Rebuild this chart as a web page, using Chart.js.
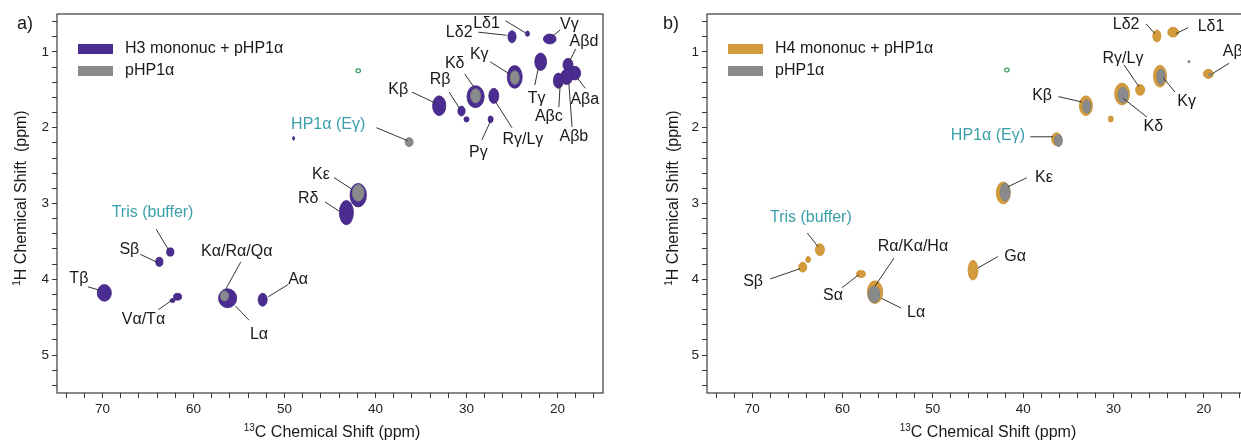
<!DOCTYPE html>
<html lang="en">
<head>
  <meta charset="UTF-8" />
  <title>HP1α 13C-1H correlation spectra</title>
  <script src="https://cdn.jsdelivr.net/npm/chart.js"></script>
  <style>
    body {
      margin: 0;
      padding: 0;
      width: 1241px;
      height: 440px;
      overflow: hidden;
      position: relative;
      background: #fff;
    }
    canvas { position: absolute; top: 0; }
    #panelA { left: 0; }
    #panelB { left: 650px; }
  </style>
</head>
<body>
  <canvas id="panelA" width="620" height="440"></canvas>
  <canvas id="panelB" width="620" height="440"></canvas>
  <script>
    // Axis ticks (ppm)
    const carbonTicks = [74, 72, 70, 68, 66, 64, 62, 60, 58, 56, 54, 52, 50, 48, 46, 44, 42, 40, 38, 36, 34, 32, 30, 28, 26, 24, 22, 20, 18, 16];
    const protonTicks = [0.6, 0.8, 1, 1.2, 1.4, 1.6, 1.8, 2, 2.2, 2.4, 2.6, 2.8, 3, 3.2, 3.4, 3.6, 3.8, 4, 4.2, 4.4, 4.6, 4.8, 5, 5.2, 5.4];

    // Panel a: H3 mononuc + pHP1a peaks (13C, 1H, linewidth C, linewidth H)
    const h3Carbon = [25.0, 23.3, 20.85, 21.85, 18.85, 18.1, 19.0, 19.9, 24.7, 29.0, 27.0, 33.0, 30.55, 30.0, 27.35, 49.0, 41.9, 43.2, 62.55, 63.75, 69.8, 61.75, 62.3, 56.25, 52.4];
    const h3Proton = [0.80, 0.76, 0.83, 1.13, 1.17, 1.28, 1.33, 1.38, 1.33, 1.59, 1.58, 1.71, 1.78, 1.89, 1.89, 2.14, 2.89, 3.12, 3.64, 3.77, 4.18, 4.23, 4.28, 4.25, 4.27];
    const h3WidthC = [0.9, 0.45, 1.4, 1.3, 1.1, 1.3, 1.3, 1.1, 1.65, 1.9, 1.1, 1.45, 0.8, 0.55, 0.55, 0.22, 1.8, 1.55, 0.8, 0.8, 1.55, 0.9, 0.55, 2.0, 1.0];
    const h3WidthH = [0.16, 0.07, 0.13, 0.23, 0.17, 0.18, 0.2, 0.2, 0.30, 0.29, 0.20, 0.26, 0.13, 0.07, 0.09, 0.05, 0.31, 0.32, 0.11, 0.12, 0.22, 0.09, 0.055, 0.25, 0.17];

    // Panel a: pHP1a alone
    const aGreyCarbon = [24.7, 29.0, 36.3, 41.9, 56.6];
    const aGreyProton = [1.34, 1.58, 2.19, 2.86, 4.22];
    const aGreyWidthC = [1.0, 1.1, 0.9, 1.3, 0.9];
    const aGreyWidthH = [0.18, 0.19, 0.12, 0.22, 0.13];

    // Panel b: H4 mononuc + pHP1a peaks
    const h4Carbon = [25.2, 23.4, 19.5, 27.05, 24.85, 29.05, 30.3, 33.05, 36.3, 42.2, 62.5, 64.4, 63.8, 57.95, 56.4, 45.55];
    const h4Proton = [0.79, 0.74, 1.29, 1.50, 1.32, 1.555, 1.885, 1.71, 2.15, 2.86, 3.61, 3.84, 3.74, 3.93, 4.17, 3.88];
    const h4WidthC = [0.9, 1.2, 1.1, 1.0, 1.45, 1.65, 0.55, 1.45, 1.1, 1.55, 1.0, 0.9, 0.55, 1.0, 1.7, 1.1];
    const h4WidthH = [0.16, 0.13, 0.12, 0.145, 0.29, 0.29, 0.08, 0.26, 0.17, 0.29, 0.16, 0.13, 0.08, 0.09, 0.30, 0.26];

    // Panel b: pHP1a alone
    const bGreyCarbon = [21.65, 19.3, 24.75, 28.95, 32.95, 36.1, 42.0, 56.5];
    const bGreyProton = [1.13, 1.30, 1.33, 1.57, 1.72, 2.17, 2.85, 4.20];
    const bGreyWidthC = [0.25, 0.3, 0.9, 1.1, 0.9, 0.9, 1.1, 1.3];
    const bGreyWidthH = [0.03, 0.04, 0.21, 0.21, 0.18, 0.16, 0.24, 0.22];

    // small unassigned ring seen in both spectra
    const ringCarbon = [41.9];
    const ringProton = [1.25];

    // assignments: text, label C, label H, leader from C/H, leader to C/H
    const h3Notes = [
      ['Lδ2', 30.8, 0.74, 28.7, 0.74, 25.6, 0.78],
      ['Lδ1', 27.8, 0.63, 25.7, 0.59, 23.5, 0.75],
      ['Vγ', 18.7, 0.645, 19.7, 0.71, 20.5, 0.79],
      ['Aβd', 17.1, 0.87, 18.0, 0.96, 18.7, 1.13],
      ['Kγ', 28.6, 1.04, 27.4, 1.13, 25.3, 1.29],
      ['Kδ', 31.3, 1.15, 30.2, 1.29, 29.2, 1.46],
      ['Rβ', 32.9, 1.37, 31.9, 1.53, 30.8, 1.74],
      ['Kβ', 37.5, 1.50, 36.0, 1.53, 33.5, 1.67],
      ['Tγ', 22.3, 1.62, 22.5, 1.44, 22.1, 1.21],
      ['Aβa', 17.0, 1.63, 16.95, 1.48, 17.85, 1.34],
      ['Aβc', 20.95, 1.86, 19.85, 1.73, 19.7, 1.41],
      ['Aβb', 18.2, 2.12, 18.4, 1.99, 18.75, 1.42],
      ['Pγ', 28.7, 2.33, 28.3, 2.16, 27.35, 1.91],
      ['Rγ/Lγ', 23.8, 2.16, 25.0, 2.00, 26.8, 1.66],
      ['HP1α (Eγ)', 45.2, 1.96, 39.9, 2.00, 36.5, 2.17],
      ['Kε', 46.0, 2.62, 44.55, 2.66, 42.6, 2.81],
      ['Rδ', 47.4, 2.93, 45.55, 2.98, 44.0, 3.10],
      ['Tris (buffer)', 64.5, 3.12, 64.1, 3.34, 62.75, 3.61],
      ['Sβ', 67.05, 3.61, 65.85, 3.67, 64.1, 3.77],
      ['Tβ', 72.6, 3.995, 71.6, 4.10, 70.4, 4.14],
      ['Kα/Rα/Qα', 55.25, 3.64, 54.8, 3.77, 56.5, 4.14],
      ['Aα', 48.5, 4.01, 49.6, 4.07, 51.8, 4.23],
      ['Vα/Tα', 65.5, 4.53, 63.85, 4.40, 62.3, 4.27],
      ['Lα', 52.8, 4.73, 53.9, 4.54, 55.4, 4.35]
    ];
    const h4Notes = [
      ['Lδ2', 28.6, 0.645, 26.4, 0.63, 25.4, 0.76],
      ['Lδ1', 19.2, 0.67, 21.75, 0.68, 23.1, 0.76],
      ['Aβ', 16.8, 1.0, 17.2, 1.15, 19.1, 1.29],
      ['Rγ/Lγ', 28.95, 1.09, 28.84, 1.17, 27.18, 1.46],
      ['Kγ', 21.9, 1.66, 23.2, 1.53, 24.5, 1.34],
      ['Kδ', 25.6, 1.99, 26.3, 1.86, 28.95, 1.61],
      ['Kβ', 37.9, 1.57, 36.1, 1.59, 33.5, 1.66],
      ['HP1α (Eγ)', 43.9, 2.11, 39.2, 2.12, 36.7, 2.12],
      ['Kε', 37.7, 2.66, 39.6, 2.66, 41.7, 2.78],
      ['Tris (buffer)', 63.5, 3.18, 63.9, 3.39, 62.7, 3.57],
      ['Sβ', 69.9, 4.03, 68.0, 3.995, 64.7, 3.86],
      ['Sα', 61.05, 4.22, 60.05, 4.11, 58.2, 3.94],
      ['Rα/Kα/Hα', 52.2, 3.57, 54.3, 3.72, 56.4, 4.09],
      ['Lα', 51.85, 4.44, 53.5, 4.38, 55.7, 4.25],
      ['Gα', 40.9, 3.70, 42.8, 3.70, 45.0, 3.85]
    ];
    const tealNotes = ['Tris (buffer)', 'HP1α (Eγ)'];

    const FONT = "'Liberation Sans', Arial, sans-serif";
    const INK = '#1a1a1a';
    const TEAL = '#3a9fab';
    const FRAME = '#3a3a3a';

    function peaks(label, cs, hs, wc, wh, fill, edge) {
      return {
        label: label,
        data: cs.map((c, i) => ({ x: c, y: hs[i] })),
        spanC: wc,
        spanH: wh,
        backgroundColor: fill,
        borderColor: edge
      };
    }

    function ring(cs, hs) {
      return {
        label: '',
        data: cs.map((c, i) => ({ x: c, y: hs[i] })),
        spanC: cs.map(() => 0.5),
        spanH: cs.map(() => 0.05),
        ring: true,
        borderColor: '#2f9a5a'
      };
    }

    // draws each peak as an ellipse sized by its linewidths
    const blobPlugin = {
      id: 'blobs',
      afterDatasetsDraw(chart) {
        const ctx = chart.ctx, xs = chart.scales.x, ys = chart.scales.y, a = chart.chartArea;
        ctx.save();
        ctx.beginPath();
        ctx.rect(a.left, a.top, a.right - a.left, a.bottom - a.top);
        ctx.clip();
        chart.data.datasets.forEach((ds, i) => {
          const meta = chart.getDatasetMeta(i);
          meta.data.forEach((pt, j) => {
            const d = ds.data[j];
            const rx = Math.abs(xs.getPixelForValue(d.x + ds.spanC[j] / 2) - pt.x);
            const ry = Math.abs(ys.getPixelForValue(d.y + ds.spanH[j] / 2) - pt.y);
            ctx.beginPath();
            ctx.ellipse(pt.x, pt.y, rx, ry, 0, 0, Math.PI * 2);
            if (ds.ring) {
              ctx.strokeStyle = ds.borderColor;
              ctx.lineWidth = 1.2;
              ctx.stroke();
            } else {
              ctx.fillStyle = ds.backgroundColor;
              ctx.fill();
              ctx.strokeStyle = ds.borderColor;
              ctx.lineWidth = 0.8;
              ctx.stroke();
            }
          });
        });
        ctx.restore();
      }
    };

    function drawSupTitle(ctx, sup, rest, cx, cy) {
      ctx.font = '16px ' + FONT;
      const wRest = ctx.measureText(rest).width;
      ctx.font = '10px ' + FONT;
      const wSup = ctx.measureText(sup).width;
      const x0 = cx - (wRest + wSup) / 2;
      ctx.textAlign = 'left';
      ctx.textBaseline = 'alphabetic';
      ctx.fillText(sup, x0, cy - 6);
      ctx.font = '16px ' + FONT;
      ctx.fillText(rest, x0 + wSup, cy);
    }

    // frame, legend, assignments, axis titles, panel letter
    function decor(notes, letter, letterX, yTitleX, xTitleX) {
      return {
        id: 'decor',
        afterDraw(chart) {
          const ctx = chart.ctx, xs = chart.scales.x, ys = chart.scales.y, a = chart.chartArea;
          ctx.save();
          ctx.strokeStyle = FRAME;
          ctx.lineWidth = 1.2;
          ctx.strokeRect(a.left, a.top, a.right - a.left, a.bottom - a.top);

          // leader lines + labels
          ctx.font = '16px ' + FONT;
          ctx.textAlign = 'center';
          ctx.textBaseline = 'middle';
          notes.forEach(([text, tc, th, c1, h1, c2, h2]) => {
            ctx.strokeStyle = '#333';
            ctx.lineWidth = 1;
            ctx.beginPath();
            ctx.moveTo(xs.getPixelForValue(c1), ys.getPixelForValue(h1));
            ctx.lineTo(xs.getPixelForValue(c2), ys.getPixelForValue(h2));
            ctx.stroke();
            ctx.fillStyle = tealNotes.includes(text) ? TEAL : INK;
            ctx.fillText(text, xs.getPixelForValue(tc), ys.getPixelForValue(th));
          });

          // legend
          const keys = chart.data.datasets.filter(ds => ds.label && !ds.ring);
          keys.forEach((ds, k) => {
            const y = a.top + 30 + k * 22;
            ctx.fillStyle = ds.backgroundColor;
            ctx.fillRect(a.left + 21, y, 35, 10);
            ctx.fillStyle = INK;
            ctx.font = '16px ' + FONT;
            ctx.textAlign = 'left';
            ctx.textBaseline = 'middle';
            ctx.fillText(ds.label, a.left + 68, y + 5);
          });

          // axis titles
          ctx.fillStyle = INK;
          drawSupTitle(ctx, '13', 'C Chemical Shift (ppm)', xTitleX, 437);
          ctx.save();
          ctx.translate(yTitleX, 198);
          ctx.rotate(-Math.PI / 2);
          drawSupTitle(ctx, '1', 'H Chemical Shift  (ppm)', 0, 6);
          ctx.restore();

          ctx.font = '18px ' + FONT;
          ctx.textAlign = 'left';
          ctx.textBaseline = 'alphabetic';
          ctx.fillText(letter, letterX, 29);
          ctx.restore();
        }
      };
    }

    function panel(canvasId, datasets, notes, letter, letterX, yTitleX, xTitleX, padRight) {
      return new Chart(document.getElementById(canvasId), {
        type: 'scatter',
        data: { datasets: datasets },
        options: {
          responsive: false,
          animation: false,
          events: [],
          layout: { padding: { left: 0, top: 14, right: padRight, bottom: 0 } },
          elements: { point: { radius: 0, hoverRadius: 0, hitRadius: 0 } },
          plugins: { legend: { display: false }, tooltip: { enabled: false } },
          scales: {
            x: {
              type: 'linear',
              min: 15,
              max: 75,
              reverse: true,
              afterFit: s => { s.height = 47; },
              afterBuildTicks: s => { s.ticks = carbonTicks.map(v => ({ value: v })); },
              ticks: {
                autoSkip: false,
                maxRotation: 0,
                padding: 3,
                color: '#222',
                font: { family: FONT, size: 13.5 },
                callback: v => (v % 10 === 0 ? v : '')
              },
              grid: { drawOnChartArea: false, tickLength: 5, color: FRAME, lineWidth: 1 },
              border: { display: false }
            },
            y: {
              type: 'linear',
              min: 0.5,
              max: 5.5,
              reverse: true,
              afterFit: s => { s.width = 57; },
              afterBuildTicks: s => { s.ticks = protonTicks.map(v => ({ value: v })); },
              ticks: {
                autoSkip: false,
                padding: 3,
                color: '#222',
                font: { family: FONT, size: 13.5 },
                callback: v => (Number.isInteger(v) ? v : '')
              },
              grid: { drawOnChartArea: false, tickLength: 5, color: FRAME, lineWidth: 1 },
              border: { display: false }
            }
          }
        },
        plugins: [blobPlugin, decor(notes, letter, letterX, yTitleX, xTitleX)]
      });
    }

    const PURPLE = '#4b2c91';
    const ORANGE = '#d39b3b';
    const GREY = '#888a8c';

    panel('panelA', [
      peaks('H3 mononuc + pHP1α', h3Carbon, h3Proton, h3WidthC, h3WidthH, PURPLE, '#43267f'),
      peaks('pHP1α', aGreyCarbon, aGreyProton, aGreyWidthC, aGreyWidthH, GREY, '#7f8183'),
      ring(ringCarbon, ringProton)
    ], h3Notes, 'a)', 17, 20, 332, 17);

    panel('panelB', [
      peaks('H4 mononuc + pHP1α', h4Carbon, h4Proton, h4WidthC, h4WidthH, ORANGE, '#c98f31'),
      peaks('pHP1α', bGreyCarbon, bGreyProton, bGreyWidthC, bGreyWidthH, GREY, '#7f8183'),
      ring([41.8], [1.24])
    ], h4Notes, 'b)', 13, 22, 338, 21);
  </script>
</body>
</html>
